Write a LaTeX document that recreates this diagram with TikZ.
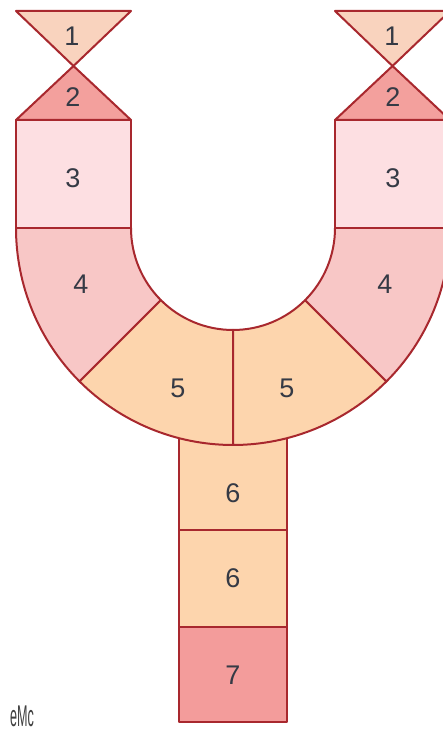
\documentclass[tikz,border=0pt]{standalone}
\usepackage{fontspec}
\setmainfont{Liberation Sans}
\usetikzlibrary{calc}
\definecolor{edge}{HTML}{A8282E}
\definecolor{cOne}{HTML}{F9D3BE}
\definecolor{cTwo}{HTML}{F3A09D}
\definecolor{cThree}{HTML}{FDDFE2}
\definecolor{cFour}{HTML}{F8C7C6}
\definecolor{cFive}{HTML}{FDD5AD}
\definecolor{cSeven}{HTML}{F39C9B}
\definecolor{txt}{HTML}{353A45}
\tikzset{
  part/.style={draw=edge, line width=2pt, line join=round},
  lbl/.style={text=txt, font=\fontsize{27}{32}\selectfont, inner sep=0pt}
}
\begin{document}
\begin{tikzpicture}[x=1pt,y=1pt]
\clip (0,0) rectangle (443,733);
\fill[white] (0,0) rectangle (443,733);
\coordinate (C) at (233,505);
% stem
\path[part, fill=cFive] (179,380) rectangle (287,203);
\path[part, fill=cFive] (179,203) rectangle (287,106);
\path[part, fill=cSeven] (179,106) rectangle (287,11);
% ring sectors
\path[part, fill=cFour] ([shift={(C)}]180:217) arc[start angle=180,end angle=225,radius=217]
  -- ([shift={(C)}]225:102) arc[start angle=225,end angle=180,radius=102] -- cycle;
\path[part, fill=cFive] ([shift={(C)}]225:217) arc[start angle=225,end angle=270,radius=217]
  -- ([shift={(C)}]270:102) arc[start angle=270,end angle=225,radius=102] -- cycle;
\path[part, fill=cFive] ([shift={(C)}]270:217) arc[start angle=270,end angle=315,radius=217]
  -- ([shift={(C)}]315:102) arc[start angle=315,end angle=270,radius=102] -- cycle;
\path[part, fill=cFour] ([shift={(C)}]315:217) arc[start angle=315,end angle=360,radius=217]
  -- ([shift={(C)}]0:102) arc[start angle=0,end angle=-45,radius=102] -- cycle;
% left column
\path[part, fill=cThree] (16,505) rectangle (131,613);
\path[part, fill=cTwo] (16,613) -- (131,613) -- (73.5,667) -- cycle;
\path[part, fill=cOne] (16,722) -- (131,722) -- (73.5,667) -- cycle;
% right column
\path[part, fill=cThree] (335,505) rectangle (450,613);
\path[part, fill=cTwo] (335,613) -- (450,613) -- (392.5,667) -- cycle;
\path[part, fill=cOne] (335,722) -- (450,722) -- (392.5,667) -- cycle;
% labels
\node[lbl] (l1a) at (72,697) {1};
\node[lbl] (l2a) at (73,636) {2};
\node[lbl] (l3a) at (73,555) {3};
\node[lbl] (l4a) at (81,449) {4};
\node[lbl] (l5a) at (178,345) {5};
\node[lbl] (l1b) at (392,697) {1};
\node[lbl] (l2b) at (393,636) {2};
\node[lbl] (l3b) at (393,555) {3};
\node[lbl] (l4b) at (385,449) {4};
\node[lbl] (l5b) at (287,345) {5};
\node[lbl] (l6a) at (233,240) {6};
\node[lbl] (l6b) at (233,155) {6};
\node[lbl] (l7) at (233,58) {7};
\node[text=black!75, inner sep=0pt] (wm) at (22,17) {\scalebox{0.42}[1]{\fontsize{30}{32}\selectfont eMc}};
\end{tikzpicture}
\end{document}
